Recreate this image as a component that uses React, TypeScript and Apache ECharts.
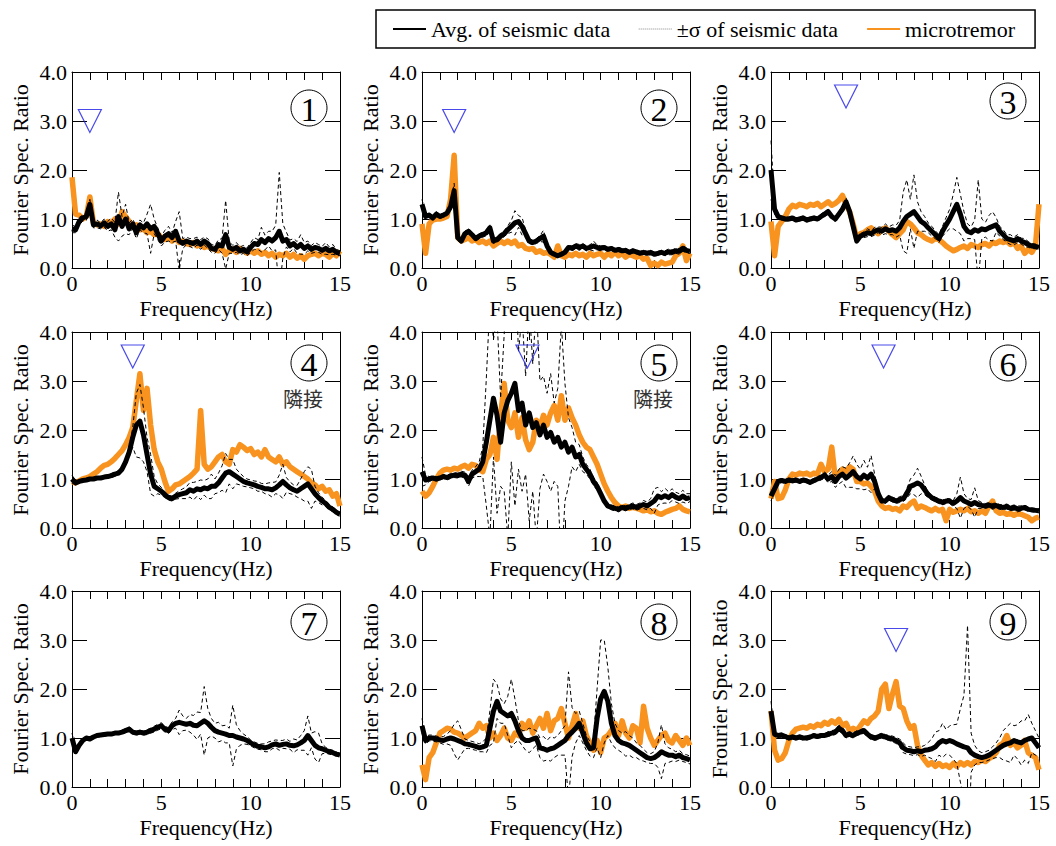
import React, { useEffect, useRef } from "react";
import * as echarts from "echarts";

// Frequency axis (Hz), 0.2 Hz step
const FREQ = [
  0, 0.2, 0.4, 0.6, 0.8,
  1, 1.2, 1.4, 1.6, 1.8,
  2, 2.2, 2.4, 2.6, 2.8,
  3, 3.2, 3.4, 3.6, 3.8,
  4, 4.2, 4.4, 4.6, 4.8,
  5, 5.2, 5.4, 5.6, 5.8,
  6, 6.2, 6.4, 6.6, 6.8,
  7, 7.2, 7.4, 7.6, 7.8,
  8, 8.2, 8.4, 8.6, 8.8,
  9, 9.2, 9.4, 9.6, 9.8,
  10, 10.2, 10.4, 10.6, 10.8,
  11, 11.2, 11.4, 11.6, 11.8,
  12, 12.2, 12.4, 12.6, 12.8,
  13, 13.2, 13.4, 13.6, 13.8,
  14, 14.2, 14.4, 14.6, 14.8,
  15,
];

// ---- Site 1 ----
const AVG_1 = [
  0.80, 0.78, 0.95, 1.02, 1.05,
  1.30, 0.88, 0.90, 0.86, 0.92,
  0.85, 0.90, 0.78, 1.05, 0.85,
  1.00, 0.80, 0.90, 0.72, 0.88,
  0.82, 0.90, 0.80, 0.85, 0.70,
  0.55, 0.65, 0.70, 0.62, 0.75,
  0.55, 0.50, 0.55, 0.52, 0.50,
  0.55, 0.48, 0.55, 0.50, 0.40,
  0.38, 0.48, 0.45, 0.68, 0.42,
  0.38, 0.42, 0.35, 0.38, 0.33,
  0.42, 0.50, 0.48, 0.58, 0.52,
  0.60, 0.55, 0.62, 0.75, 0.55,
  0.58, 0.45, 0.50, 0.42, 0.48,
  0.40, 0.45, 0.38, 0.42, 0.40,
  0.36, 0.40, 0.35, 0.38, 0.32,
  0.30,
];
const SD_1 = [
  0.08, 0.06, 0.08, 0.06, 0.08,
  0.10, 0.06, 0.08, 0.06, 0.08,
  0.10, 0.12, 0.15, 0.50, 0.20,
  0.30, 0.12, 0.10, 0.12, 0.10,
  0.10, 0.20, 0.50, 0.15, 0.12,
  0.10, 0.12, 0.15, 0.10, 0.20,
  0.60, 0.10, 0.08, 0.08, 0.10,
  0.08, 0.10, 0.08, 0.10, 0.08,
  0.08, 0.10, 0.15, 0.70, 0.12,
  0.08, 0.10, 0.08, 0.08, 0.08,
  0.10, 0.12, 0.10, 0.25, 0.15,
  0.15, 0.20, 0.25, 1.20, 0.35,
  0.15, 0.12, 0.10, 0.12, 0.20,
  0.12, 0.10, 0.08, 0.10, 0.08,
  0.08, 0.12, 0.08, 0.10, 0.06,
  0.05,
];
const MIC_1 = [
  1.85, 1.10, 1.08, 1.00, 1.05,
  1.45, 0.92, 0.88, 0.90, 0.85,
  0.95, 0.92, 1.00, 0.90, 1.15,
  1.05, 0.95, 0.85, 0.88, 0.78,
  0.80, 0.72, 0.75, 0.68, 0.70,
  0.62, 0.58, 0.62, 0.55, 0.60,
  0.52, 0.55, 0.50, 0.48, 0.52,
  0.45, 0.48, 0.42, 0.45, 0.40,
  0.38, 0.35, 0.40, 0.28, 0.35,
  0.38, 0.32, 0.40, 0.35, 0.30,
  0.35, 0.30, 0.35, 0.28, 0.32,
  0.25, 0.30, 0.22, 0.28, 0.25,
  0.30, 0.22, 0.28, 0.20, 0.25,
  0.18, 0.25, 0.28, 0.30, 0.25,
  0.30, 0.28, 0.22, 0.30, 0.25,
  0.35,
];

// ---- Site 2 ----
const AVG_2 = [
  1.30, 1.05, 1.08, 1.02, 1.10,
  1.05, 1.08, 1.12, 1.25, 1.58,
  0.62, 0.55, 0.70, 0.75, 0.68,
  0.60, 0.65, 0.68, 0.72, 0.82,
  0.55, 0.58, 0.65, 0.70, 0.78,
  0.85, 0.92, 0.95, 0.85, 0.70,
  0.55, 0.52, 0.55, 0.60, 0.65,
  0.45, 0.32, 0.28, 0.25, 0.28,
  0.32, 0.42, 0.40, 0.45, 0.42,
  0.45, 0.40, 0.42, 0.45, 0.42,
  0.40, 0.42, 0.38, 0.40, 0.36,
  0.38, 0.35, 0.36, 0.32, 0.35,
  0.33, 0.30, 0.32, 0.30, 0.32,
  0.28, 0.30, 0.32, 0.30, 0.33,
  0.32, 0.35, 0.34, 0.40, 0.36,
  0.34,
];
const SD_2 = [
  0.10, 0.05, 0.04, 0.04, 0.05,
  0.04, 0.04, 0.05, 0.08, 0.15,
  0.06, 0.05, 0.05, 0.05, 0.05,
  0.05, 0.05, 0.05, 0.06, 0.06,
  0.05, 0.05, 0.06, 0.06, 0.08,
  0.12, 0.25, 0.12, 0.18, 0.08,
  0.05, 0.05, 0.05, 0.06, 0.12,
  0.05, 0.04, 0.04, 0.04, 0.04,
  0.04, 0.04, 0.05, 0.05, 0.06,
  0.05, 0.05, 0.05, 0.10, 0.05,
  0.05, 0.04, 0.04, 0.04, 0.04,
  0.04, 0.04, 0.04, 0.04, 0.04,
  0.04, 0.04, 0.04, 0.04, 0.04,
  0.04, 0.04, 0.04, 0.05, 0.06,
  0.05, 0.05, 0.06, 0.06, 0.05,
  0.04,
];
const MIC_2 = [
  0.90, 0.30, 0.90, 0.98, 1.00,
  1.00, 1.02, 1.05, 1.40, 2.30,
  0.62, 0.55, 0.58, 0.62, 0.55,
  0.58, 0.52, 0.55, 0.50, 0.55,
  0.45, 0.50, 0.55, 0.50, 0.55,
  0.50, 0.55, 0.45, 0.48, 0.40,
  0.38, 0.40, 0.32, 0.35, 0.30,
  0.32, 0.28, 0.22, 0.45, 0.25,
  0.22, 0.28, 0.25, 0.30, 0.25,
  0.28, 0.22, 0.30, 0.25, 0.28,
  0.30, 0.22, 0.30, 0.25, 0.32,
  0.25, 0.30, 0.22, 0.28, 0.25,
  0.22, 0.25, 0.18, 0.20, 0.05,
  0.10, 0.05, 0.12, 0.08, 0.10,
  0.12, 0.25, 0.30, 0.45, 0.15,
  0.30,
];

// ---- Site 3 ----
const AVG_3 = [
  2.00, 1.20, 1.05, 1.02, 1.00,
  1.00, 1.02, 0.98, 1.00, 1.02,
  0.98, 1.00, 1.02, 1.00, 1.05,
  1.10, 1.15, 1.05, 1.00, 1.10,
  1.20, 1.35, 1.15, 0.85, 0.55,
  0.65, 0.68, 0.72, 0.70, 0.75,
  0.78, 0.75, 0.80, 0.76, 0.78,
  0.75, 0.82, 0.95, 1.05, 1.10,
  1.15, 1.05, 0.95, 0.90, 0.82,
  0.75, 0.68, 0.60, 0.75, 0.88,
  1.00, 1.15, 1.30, 1.10, 0.85,
  0.75, 0.72, 0.78, 0.75, 0.80,
  0.78, 0.82, 0.85, 0.88, 0.75,
  0.68, 0.60, 0.58, 0.55, 0.60,
  0.55, 0.52, 0.48, 0.45, 0.44,
  0.42,
];
const SD_3 = [
  0.60, 0.10, 0.05, 0.04, 0.04,
  0.04, 0.04, 0.04, 0.04, 0.04,
  0.04, 0.04, 0.04, 0.04, 0.05,
  0.05, 0.05, 0.05, 0.05, 0.06,
  0.06, 0.08, 0.06, 0.05, 0.05,
  0.05, 0.06, 0.08, 0.06, 0.08,
  0.06, 0.08, 0.10, 0.08, 0.10,
  0.12, 0.15, 0.60, 0.75, 0.30,
  0.75, 0.30, 0.20, 0.15, 0.10,
  0.10, 0.08, 0.08, 0.10, 0.15,
  0.20, 0.35, 0.55, 0.40, 0.30,
  0.15, 0.12, 0.20, 1.05, 0.20,
  0.15, 0.25, 0.30, 0.15, 0.10,
  0.10, 0.08, 0.10, 0.08, 0.08,
  0.06, 0.08, 0.06, 0.05, 0.05,
  0.04,
];
const MIC_3 = [
  0.95, 0.25, 0.85, 0.95, 1.05,
  1.20, 1.28, 1.25, 1.30, 1.28,
  1.25, 1.30, 1.28, 1.32, 1.25,
  1.30, 1.35, 1.28, 1.32, 1.38,
  1.48, 1.30, 1.15, 0.90, 0.60,
  0.70, 0.72, 0.78, 0.82, 0.75,
  0.70, 0.78, 0.82, 0.75, 0.68,
  0.62, 0.70, 0.78, 0.95, 0.90,
  0.82, 0.72, 0.68, 0.62, 0.58,
  0.55, 0.60, 0.58, 0.52, 0.45,
  0.40, 0.35, 0.38, 0.42, 0.45,
  0.40, 0.48, 0.45, 0.42, 0.48,
  0.50, 0.45, 0.52, 0.50, 0.55,
  0.52, 0.55, 0.48, 0.52, 0.40,
  0.45, 0.30, 0.38, 0.32, 0.45,
  1.30,
];

// ---- Site 4 ----
const AVG_4 = [
  1.00, 0.92, 0.95, 0.97, 0.98,
  1.00, 1.00, 1.02, 1.02, 1.04,
  1.05, 1.07, 1.10, 1.12, 1.20,
  1.35, 1.55, 1.85, 2.10, 2.18,
  1.90, 1.50, 1.10, 0.85, 0.80,
  0.75, 0.68, 0.62, 0.60, 0.65,
  0.68, 0.70, 0.72, 0.78, 0.75,
  0.80, 0.78, 0.82, 0.80, 0.85,
  0.85, 0.92, 1.02, 1.12, 1.15,
  1.10, 1.05, 1.00, 0.95, 0.92,
  0.90, 0.88, 0.85, 0.83, 0.80,
  0.80, 0.78, 0.82, 0.88, 0.95,
  0.88, 0.82, 0.78, 0.75, 0.80,
  0.85, 0.90, 0.80, 0.70, 0.62,
  0.55, 0.50, 0.42, 0.38, 0.32,
  0.28,
];
const SD_4 = [
  0.08, 0.04, 0.03, 0.03, 0.03,
  0.03, 0.03, 0.03, 0.03, 0.03,
  0.03, 0.04, 0.04, 0.05, 0.05,
  0.06, 0.10, 0.20, 0.65, 0.75,
  0.55, 0.35, 0.40, 0.20, 0.10,
  0.08, 0.06, 0.05, 0.05, 0.06,
  0.08, 0.10, 0.12, 0.15, 0.18,
  0.15, 0.20, 0.15, 0.20, 0.25,
  0.15, 0.20, 0.25, 0.40, 0.25,
  0.30, 0.15, 0.12, 0.10, 0.08,
  0.08, 0.08, 0.10, 0.08, 0.10,
  0.12, 0.15, 0.12, 0.20, 0.35,
  0.15, 0.12, 0.10, 0.12, 0.20,
  0.30, 0.35, 0.40, 0.15, 0.10,
  0.08, 0.06, 0.05, 0.05, 0.04,
  0.04,
];
const MIC_4 = [
  0.95, 0.92, 0.96, 1.00, 1.02,
  1.05, 1.10, 1.15, 1.22, 1.28,
  1.30, 1.35, 1.42, 1.50, 1.58,
  1.70, 1.85, 2.05, 2.60, 3.15,
  2.40, 2.85, 2.10, 1.60, 1.35,
  1.20, 0.95, 0.75, 0.80, 0.88,
  0.90, 0.95, 1.00, 1.05, 1.12,
  1.20, 2.40, 1.30, 1.20, 1.25,
  1.35, 1.45, 1.50, 1.35, 1.30,
  1.60, 1.55, 1.70, 1.65, 1.58,
  1.62, 1.50, 1.55, 1.45, 1.60,
  1.45, 1.40, 1.35, 1.45, 1.30,
  1.35, 1.25, 1.20, 1.15, 1.10,
  1.05, 1.00, 0.92, 0.88, 0.80,
  0.85, 0.75, 0.78, 0.65, 0.70,
  0.45,
];

// ---- Site 5 ----
const AVG_5 = [
  1.15, 0.98, 1.00, 1.02, 1.00,
  1.02, 1.05, 1.03, 1.06, 1.08,
  1.07, 1.10, 1.08, 0.95, 1.10,
  1.15, 1.20, 1.35, 1.75, 2.20,
  2.65, 2.30, 1.75, 2.35, 2.60,
  2.75, 2.95, 2.40, 2.55, 2.10,
  2.35, 2.05, 2.15, 1.90, 2.10,
  1.85, 1.95, 1.75, 1.85, 1.65,
  1.75, 1.55, 1.65, 1.45, 1.50,
  1.30, 1.20, 1.10, 0.95, 0.85,
  0.70, 0.55, 0.45, 0.42, 0.40,
  0.38, 0.42, 0.40, 0.43, 0.45,
  0.42, 0.45, 0.48, 0.45, 0.50,
  0.55, 0.65, 0.62, 0.66, 0.62,
  0.68, 0.63, 0.60, 0.65, 0.60,
  0.62,
];
const SD_5 = [
  0.30, 0.10, 0.05, 0.04, 0.04,
  0.04, 0.04, 0.05, 0.05, 0.05,
  0.05, 0.06, 0.06, 0.10, 0.08,
  0.10, 0.15, 0.30, 1.30, 2.40,
  1.20, 2.00, 0.90, 1.60, 2.80,
  1.40, 2.50, 1.20, 1.80, 1.00,
  2.20, 1.30, 2.40, 1.10, 1.00,
  0.90, 1.20, 0.80, 1.00, 2.50,
  1.20, 0.70, 0.40, 0.30, 0.20,
  0.15, 0.10, 0.10, 0.08, 0.08,
  0.06, 0.06, 0.05, 0.05, 0.05,
  0.05, 0.05, 0.05, 0.05, 0.06,
  0.06, 0.06, 0.08, 0.08, 0.10,
  0.25, 0.18, 0.12, 0.15, 0.12,
  0.12, 0.10, 0.10, 0.12, 0.10,
  0.08,
];
const MIC_5 = [
  0.75, 0.65, 0.72, 0.85, 1.00,
  1.12, 1.18, 1.20, 1.18, 1.22,
  1.20, 1.25, 1.28, 1.22, 1.30,
  1.28, 1.20, 1.15, 1.40, 1.50,
  1.85, 1.40, 2.30, 2.95, 2.20,
  2.05, 2.35, 1.85, 2.25, 1.80,
  1.60, 1.75, 2.20, 2.05, 2.30,
  2.10, 2.35, 2.50, 2.20, 2.70,
  2.20, 2.45, 2.25, 2.10, 1.90,
  1.75, 1.65, 1.60, 1.45, 1.30,
  1.10, 0.90, 0.75, 0.62, 0.52,
  0.45, 0.42, 0.45, 0.40, 0.42,
  0.40, 0.38, 0.35, 0.38, 0.33,
  0.35, 0.30, 0.28, 0.32, 0.35,
  0.38, 0.40, 0.45, 0.38, 0.35,
  0.33,
];

// ---- Site 6 ----
const AVG_6 = [
  0.65, 0.80, 0.95, 0.97, 0.95,
  0.98, 0.96, 0.98, 0.95, 0.98,
  0.96, 0.93, 0.97, 1.00, 1.03,
  1.08, 1.00, 1.05, 0.95, 1.05,
  1.10, 1.02, 1.08, 1.15, 1.05,
  1.00, 1.08, 1.02, 1.10, 0.95,
  0.70, 0.55, 0.55, 0.62, 0.58,
  0.55, 0.58, 0.60, 0.70, 0.85,
  0.88, 0.92, 0.88, 0.78, 0.68,
  0.62, 0.58, 0.55, 0.52, 0.55,
  0.55, 0.50, 0.55, 0.62, 0.55,
  0.52, 0.48, 0.52, 0.48, 0.46,
  0.45, 0.47, 0.44, 0.46, 0.43,
  0.42, 0.44, 0.40, 0.42, 0.39,
  0.40, 0.42, 0.38, 0.37, 0.36,
  0.35,
];
const SD_6 = [
  0.10, 0.05, 0.04, 0.04, 0.04,
  0.04, 0.04, 0.04, 0.04, 0.04,
  0.04, 0.04, 0.04, 0.05, 0.05,
  0.06, 0.08, 0.10, 0.12, 0.15,
  0.15, 0.20, 0.25, 0.32, 0.25,
  0.20, 0.30, 0.22, 0.38, 0.15,
  0.08, 0.05, 0.05, 0.05, 0.05,
  0.05, 0.06, 0.06, 0.10, 0.15,
  0.20, 0.30, 0.18, 0.10, 0.06,
  0.05, 0.05, 0.05, 0.05, 0.05,
  0.05, 0.06, 0.15, 0.42, 0.15,
  0.08, 0.10, 0.30, 0.08, 0.06,
  0.05, 0.05, 0.06, 0.05, 0.05,
  0.05, 0.05, 0.05, 0.05, 0.06,
  0.05, 0.05, 0.04, 0.04, 0.04,
  0.04,
];
const MIC_6 = [
  0.60, 0.95, 0.60, 0.62, 0.78,
  1.00, 1.10, 1.08, 1.12, 1.10,
  1.12, 1.08, 1.12, 1.10, 1.30,
  1.15, 1.20, 1.65, 1.00, 1.10,
  1.20, 1.15, 1.25, 1.20, 0.95,
  0.95, 0.90, 0.92, 0.85, 0.75,
  0.55, 0.45, 0.40, 0.42, 0.38,
  0.40, 0.35, 0.45, 0.42, 0.50,
  0.55, 0.40, 0.45, 0.42, 0.38,
  0.35, 0.40, 0.35, 0.38, 0.15,
  0.38, 0.32, 0.35, 0.38, 0.35,
  0.40, 0.33, 0.35, 0.30, 0.35,
  0.30, 0.45, 0.55, 0.35, 0.30,
  0.32, 0.28, 0.30, 0.26, 0.30,
  0.28, 0.25, 0.22, 0.15, 0.20,
  0.22,
];

// ---- Site 7 ----
const AVG_7 = [
  1.00, 0.72, 0.85, 0.95, 1.00,
  0.98, 1.02, 1.05, 1.06, 1.07,
  1.08, 1.08, 1.10, 1.10, 1.12,
  1.15, 1.18, 1.12, 1.10, 1.12,
  1.10, 1.12, 1.15, 1.18, 1.22,
  1.25, 1.18, 1.15, 1.25, 1.30,
  1.32, 1.30, 1.28, 1.30, 1.26,
  1.25, 1.30, 1.35, 1.30, 1.22,
  1.15, 1.12, 1.10, 1.08, 1.05,
  1.05, 1.02, 1.00, 0.98, 0.95,
  0.90, 0.86, 0.83, 0.82, 0.80,
  0.82, 0.86, 0.88, 0.85, 0.87,
  0.88, 0.85, 0.84, 0.86, 0.90,
  0.95, 1.05, 0.95, 0.85, 0.80,
  0.78, 0.75, 0.72, 0.70, 0.67,
  0.65,
];
const SD_7 = [
  0.10, 0.06, 0.04, 0.03, 0.03,
  0.03, 0.03, 0.03, 0.03, 0.03,
  0.03, 0.03, 0.03, 0.03, 0.04,
  0.04, 0.05, 0.04, 0.04, 0.04,
  0.04, 0.05, 0.05, 0.06, 0.06,
  0.06, 0.06, 0.06, 0.08, 0.10,
  0.25, 0.15, 0.12, 0.18, 0.20,
  0.28, 0.22, 0.70, 0.30, 0.18,
  0.15, 0.20, 0.15, 0.18, 0.15,
  0.62, 0.25, 0.15, 0.10, 0.08,
  0.06, 0.06, 0.06, 0.06, 0.08,
  0.10, 0.08, 0.08, 0.10, 0.08,
  0.10, 0.08, 0.14, 0.10, 0.15,
  0.20, 0.40, 0.15, 0.28, 0.30,
  0.10, 0.06, 0.05, 0.05, 0.04,
  0.04,
];

// ---- Site 8 ----
const AVG_8 = [
  1.25, 0.95, 1.00, 1.00, 0.98,
  0.96, 0.95, 0.98, 1.00, 0.98,
  0.95, 0.92, 0.88, 0.87, 0.85,
  0.83, 0.80, 0.82, 0.85, 1.20,
  1.55, 1.75, 1.55, 1.50, 1.45,
  1.50, 1.35, 1.15, 1.00, 0.95,
  0.95, 0.98, 1.00, 0.80, 0.78,
  0.75, 0.78, 0.80, 0.85, 0.90,
  0.95, 1.05, 1.12, 1.20, 1.30,
  1.10, 0.90, 0.78, 0.80, 1.40,
  1.80, 1.95, 1.75, 1.30, 1.05,
  0.95, 0.90, 0.88, 0.85, 0.80,
  0.75, 0.70, 0.65, 0.60, 0.58,
  0.60, 0.65, 0.72, 0.68, 0.65,
  0.65, 0.62, 0.65, 0.60, 0.58,
  0.55,
];
const SD_8 = [
  0.15, 0.08, 0.06, 0.06, 0.06,
  0.06, 0.08, 0.10, 0.15, 0.30,
  0.40, 0.25, 0.10, 0.08, 0.08,
  0.08, 0.08, 0.10, 0.15, 0.35,
  0.65, 0.35, 0.25, 0.20, 0.40,
  0.70, 0.45, 0.20, 0.15, 0.20,
  0.25, 0.20, 0.15, 0.20, 0.25,
  0.20, 0.25, 0.20, 0.20, 0.25,
  0.30, 1.30, 0.50, 0.30, 0.25,
  0.20, 0.15, 0.15, 0.20, 0.60,
  1.20, 1.05, 0.70, 0.40, 0.25,
  0.20, 0.20, 0.25, 0.20, 0.20,
  0.15, 0.15, 0.12, 0.10, 0.10,
  0.12, 0.25, 0.55, 0.20, 0.15,
  0.12, 0.10, 0.10, 0.08, 0.08,
  0.08,
];
const MIC_8 = [
  0.45, 0.15, 0.60, 0.70, 0.90,
  1.10, 1.15, 1.20, 1.18, 1.12,
  1.10, 1.05, 1.00, 1.05, 1.10,
  1.15, 1.30, 1.20, 1.25, 1.00,
  1.10, 0.95, 1.05, 1.20, 1.00,
  0.95, 1.10, 1.05, 1.30, 1.20,
  1.35, 1.10, 1.25, 1.40, 1.20,
  1.50, 1.15, 1.35, 1.40, 1.60,
  1.30, 1.00, 1.25, 1.50, 1.20,
  1.35, 1.05, 0.90, 0.75, 0.95,
  0.70, 1.00, 1.05, 1.15, 1.30,
  1.05, 1.35, 1.10, 1.00, 1.25,
  1.20, 0.90, 1.65, 1.20, 1.00,
  0.85, 0.95, 1.05, 1.10, 0.95,
  0.90, 1.05, 0.95, 0.85, 1.00,
  0.85,
];

// ---- Site 9 ----
const AVG_9 = [
  1.55, 1.08, 1.05, 1.06, 1.03,
  1.00, 1.02, 1.00, 1.02, 1.00,
  1.00, 1.02, 1.05, 1.03, 1.05,
  1.05, 1.08, 1.10, 1.12, 1.20,
  1.15, 1.05, 1.08, 1.05, 1.10,
  1.12, 1.15, 1.08, 1.02, 1.00,
  1.02, 1.05, 1.02, 1.00, 0.98,
  0.95, 0.90, 0.80, 0.75, 0.74,
  0.72, 0.74, 0.72, 0.75, 0.76,
  0.78, 0.82, 0.90, 0.95, 0.92,
  0.95, 0.92, 0.88, 0.85, 0.82,
  0.80, 0.70, 0.65, 0.62, 0.60,
  0.62, 0.65, 0.70, 0.75, 0.80,
  0.85, 0.88, 0.90, 0.95, 0.92,
  0.90, 0.95, 0.98, 1.00, 0.90,
  0.80,
];
const SD_9 = [
  0.20, 0.05, 0.04, 0.04, 0.04,
  0.04, 0.04, 0.04, 0.04, 0.04,
  0.04, 0.04, 0.04, 0.04, 0.04,
  0.04, 0.05, 0.05, 0.05, 0.06,
  0.06, 0.05, 0.05, 0.05, 0.05,
  0.05, 0.05, 0.05, 0.05, 0.05,
  0.05, 0.05, 0.05, 0.05, 0.06,
  0.06, 0.08, 0.10, 0.08, 0.08,
  0.08, 0.08, 0.10, 0.10, 0.15,
  0.20, 0.30, 0.25, 0.35, 0.25,
  0.30, 0.35, 0.40, 0.75, 1.05,
  2.50, 0.40, 0.20, 0.12, 0.10,
  0.10, 0.10, 0.12, 0.15, 0.20,
  0.30, 0.35, 0.40, 0.30, 0.35,
  0.45, 0.40, 0.50, 0.30, 0.25,
  0.20,
];
const MIC_9 = [
  1.55, 0.75, 0.55, 0.58, 0.70,
  0.95, 1.10, 1.18, 1.20, 1.22,
  1.20, 1.25, 1.22, 1.28, 1.25,
  1.32, 1.28, 1.35, 1.30, 1.38,
  1.25, 1.30, 1.15, 1.20, 1.15,
  1.25, 1.35, 1.30, 1.40, 1.45,
  1.55, 2.00, 2.10, 1.60, 1.90,
  2.15, 1.65, 1.60, 1.35, 1.20,
  1.25, 0.85, 0.65, 0.55, 0.45,
  0.50, 0.42, 0.48, 0.42, 0.45,
  0.40, 0.48, 0.42, 0.50, 0.45,
  0.50, 0.45, 0.52, 0.50, 0.55,
  0.52, 0.58, 0.62, 0.70, 0.85,
  0.90, 1.05, 0.85, 0.90, 0.80,
  0.85, 0.95, 0.70, 0.65, 0.60,
  0.35,
];

const AVG = [AVG_1, AVG_2, AVG_3, AVG_4, AVG_5, AVG_6, AVG_7, AVG_8, AVG_9];
const SD = [SD_1, SD_2, SD_3, SD_4, SD_5, SD_6, SD_7, SD_8, SD_9];
const MIC = [MIC_1, MIC_2, MIC_3, MIC_4, MIC_5, MIC_6, null, MIC_8, MIC_9];

// Predominant-frequency markers (Hz) and the level at which they sit
const PEAK_FREQ = [1.0, 1.8, 4.2, 3.4, 5.9, 6.3, null, null, 7.0];
const PEAK_LEVEL = [3.0, 3.0, 3.5, 3.5, 3.5, 3.5, null, null, 3.0];

const SITE_NUMBERS = ["1", "2", "3", "4", "5", "6", "7", "8", "9"];
const X_TITLE = "Frequency(Hz)";
const Y_TITLES = [
  "Fourier Spec. Ratio",
  "Fourier Spec. Ratio",
  "Fourier Spec. Ratio",
  "Fourier Spec. Ratio",
  "Fourier Spec. Ratio",
  "Fourier Spec. Ratio",
  "Fourier Spec. Ratio",
  "Fourier Spec. Ratio",
  "Frourier Spec. Ratio",
];
const ADJACENT_NOTE = [null, null, null, "隣接", "隣接", null, null, null, null];

const NAME_AVG = "Avg. of seismic data";
const NAME_SD = "±σ of seismic data";
const NAME_MIC = "microtremor";

const ORANGE = "#f7931e";
const BLUE = "#1c1ce6";
const FONT = '"Liberation Serif", "Times New Roman", serif';

const GRID_LEFTS = [72, 422, 771];
const GRID_TOPS = [72, 332, 591];
const GRID_W = 268;
const GRID_H = 196;
const BADGE_DY = [36, 36, 29, 31, 31, 31, 31, 31, 31];

export default function App() {
  const ref = useRef<HTMLDivElement>(null);

  useEffect(() => {
    if (!ref.current) return;
    const chart = echarts.init(ref.current, null, { renderer: "svg" });

    const grids: any[] = [];
    const xAxes: any[] = [];
    const yAxes: any[] = [];
    const series: any[] = [];
    const graphics: any[] = [];

    const textStyle = () => ({ fontFamily: FONT, fontSize: 22, fontWeight: "normal", color: "#000" });
    const axisLine = () => ({ onZero: false, lineStyle: { color: "#000", width: 1 } });

    for (let i = 0; i < 9; i++) {
      const left = GRID_LEFTS[i % 3];
      const top = GRID_TOPS[Math.floor(i / 3)];
      grids.push({ left, top, width: GRID_W, height: GRID_H });

      const xb = xAxes.length;
      xAxes.push({
        gridIndex: i,
        type: "value",
        position: "bottom",
        min: 0,
        max: 15,
        interval: 1,
        name: X_TITLE,
        nameLocation: "middle",
        nameGap: 29,
        nameTextStyle: textStyle(),
        axisLine: axisLine(),
        axisTick: { inside: true, length: 8, lineStyle: { color: "#000" } },
        axisLabel: {
          ...textStyle(),
          margin: 4,
          formatter: (v: number) => (v % 5 === 0 ? String(v) : ""),
        },
        splitLine: { show: false },
      });
      xAxes.push({
        gridIndex: i,
        type: "value",
        position: "top",
        min: 0,
        max: 15,
        interval: 1,
        axisLine: axisLine(),
        axisTick: { inside: true, length: 8, lineStyle: { color: "#000" } },
        axisLabel: { show: false },
        splitLine: { show: false },
      });

      const yl = yAxes.length;
      yAxes.push({
        gridIndex: i,
        type: "value",
        position: "left",
        min: 0,
        max: 4,
        interval: 1,
        name: Y_TITLES[i],
        nameLocation: "middle",
        nameGap: 41,
        nameRotate: 90,
        nameTextStyle: textStyle(),
        axisLine: axisLine(),
        axisTick: { inside: true, length: 15, lineStyle: { color: "#000" } },
        axisLabel: { ...textStyle(), margin: 5, formatter: (v: number) => v.toFixed(1) },
        splitLine: { show: false },
      });
      yAxes.push({
        gridIndex: i,
        type: "value",
        position: "right",
        min: 0,
        max: 4,
        interval: 1,
        axisLine: axisLine(),
        axisTick: { inside: true, length: 15, lineStyle: { color: "#000" } },
        axisLabel: { show: false },
        splitLine: { show: false },
      });

      const avg = AVG[i];
      const sd = SD[i];
      const mic = MIC[i];

      if (mic) {
        series.push({
          name: NAME_MIC,
          type: "line",
          xAxisIndex: xb,
          yAxisIndex: yl,
          symbol: "none",
          z: 2,
          data: FREQ.map((f, k) => [f, mic[k]]),
          lineStyle: { color: ORANGE, width: 5.5, join: "round" },
          itemStyle: { color: ORANGE },
        });
      }
      series.push({
        name: NAME_AVG,
        type: "line",
        xAxisIndex: xb,
        yAxisIndex: yl,
        symbol: "none",
        z: 3,
        data: FREQ.map((f, k) => [f, avg[k]]),
        lineStyle: { color: "#000", width: 5, join: "round" },
        itemStyle: { color: "#000" },
      });
      // ±σ envelope drawn as two thin dashed lines
      const sdStyle = { color: "#000", width: 1, type: [4, 3] };
      series.push({
        name: NAME_SD,
        type: "line",
        xAxisIndex: xb,
        yAxisIndex: yl,
        symbol: "none",
        z: 4,
        data: FREQ.map((f, k) => [f, +(avg[k] + sd[k]).toFixed(3)]),
        lineStyle: sdStyle,
        itemStyle: { color: "#000" },
      });
      series.push({
        name: NAME_SD,
        type: "line",
        xAxisIndex: xb,
        yAxisIndex: yl,
        symbol: "none",
        z: 4,
        data: FREQ.map((f, k) => [f, +(avg[k] - sd[k]).toFixed(3)]),
        lineStyle: sdStyle,
        itemStyle: { color: "#000" },
      });

      const pf = PEAK_FREQ[i];
      const pl = PEAK_LEVEL[i];
      if (pf !== null && pl !== null) {
        series.push({
          name: "peak",
          type: "scatter",
          xAxisIndex: xb,
          yAxisIndex: yl,
          silent: true,
          z: 5,
          symbol: "triangle",
          symbolRotate: 180,
          symbolSize: [23, 23],
          data: [[pf, pl]],
          itemStyle: { color: "rgba(255,255,255,0)", borderColor: BLUE, borderWidth: 1.2 },
        });
      }

      // Site number badge in the upper-right corner
      const cx = left + GRID_W - 31;
      const cy = top + BADGE_DY[i];
      graphics.push({
        type: "circle",
        shape: { cx, cy, r: 18 },
        style: { fill: "#fff", stroke: "#000", lineWidth: 1 },
        z: 10,
      });
      graphics.push({
        type: "text",
        x: cx,
        y: cy + 1,
        style: {
          text: SITE_NUMBERS[i],
          fontFamily: FONT,
          fontSize: 34,
          fill: "#000",
          align: "center",
          verticalAlign: "middle",
        },
        z: 11,
      });

      const note = ADJACENT_NOTE[i];
      if (note) {
        graphics.push({
          type: "text",
          x: left + GRID_W - 37,
          y: top + 66,
          style: {
            text: note,
            fontFamily: '"Noto Sans CJK JP", sans-serif',
            fontSize: 20,
            fill: "#333",
            align: "center",
            verticalAlign: "middle",
          },
          z: 11,
        });
      }
    }

    chart.setOption({
      animation: false,
      backgroundColor: "#fff",
      grid: grids,
      xAxis: xAxes,
      yAxis: yAxes,
      series,
      graphic: graphics,
      legend: {
        left: 376,
        top: 10,
        padding: [8, 20, 8, 16],
        itemGap: 28,
        itemWidth: 33,
        itemHeight: 14,
        selectedMode: false,
        borderColor: "#000",
        borderWidth: 1.5,
        backgroundColor: "#fff",
        itemStyle: { color: "rgba(0,0,0,0)", borderColor: "rgba(0,0,0,0)", borderWidth: 0 },
        textStyle: { fontFamily: FONT, fontSize: 22, color: "#000" },
        data: [
          { name: NAME_AVG },
          { name: NAME_SD, lineStyle: { color: "#888", width: 1, type: "dotted" } },
          { name: NAME_MIC },
        ],
      },
    });

    return () => chart.dispose();
  }, []);

  return (
    <div
      ref={ref}
      style={{ position: "absolute", left: 0, top: 0, width: 1056, height: 846 }}
    />
  );
}
